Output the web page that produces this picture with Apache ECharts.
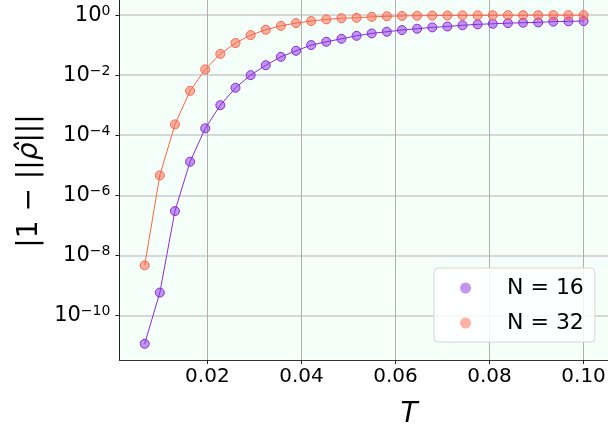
<!DOCTYPE html>
<html>
<head>
<meta charset="utf-8">
<script src="https://cdn.jsdelivr.net/npm/echarts@6/dist/echarts.min.js"></script>
<style>
html,body{margin:0;padding:0;background:#fff;}
#c{width:608px;height:432px;}
</style>
</head>
<body>
<div id="c"></div>
<script>
// ---- data ----
const T = [0.006667, 0.009885, 0.013103, 0.016322, 0.019540, 0.022759, 0.025977, 0.029195,
           0.032414, 0.035632, 0.038851, 0.042069, 0.045287, 0.048506, 0.051724, 0.054943,
           0.058161, 0.061379, 0.064598, 0.067816, 0.071034, 0.074253, 0.077471, 0.080690,
           0.083908, 0.087126, 0.090345, 0.093563, 0.096782, 0.100000];
const n16 = [1.15e-11, 5.8e-10, 3.0e-7, 1.32e-5, 1.7e-4, 1.0e-3, 3.8e-3, 1.0e-2,
             2.14e-2, 4.07e-2, 6.46e-2, 0.100, 0.129, 0.162, 0.204, 0.245,
             0.279, 0.316, 0.351, 0.389, 0.417, 0.457, 0.490, 0.513,
             0.537, 0.556, 0.569, 0.603, 0.617, 0.631];
const n32 = [4.7e-9, 4.6e-6, 2.3e-4, 3.0e-3, 1.55e-2, 5.1e-2, 0.117, 0.215,
             0.324, 0.437, 0.541, 0.631, 0.718, 0.785, 0.81, 0.87,
             0.91, 0.935, 0.95, 0.96, 0.97, 0.975, 0.98, 0.984,
             0.987, 0.99, 0.992, 0.993, 0.994, 0.995];
const seriesNames = ['N = 16', 'N = 32'];
const xTickValues = [0.02, 0.04, 0.06, 0.08, 0.10];
const xTickLabels = ['0.02', '0.04', '0.06', '0.08', '0.10'];
const yTickValues = [1e-10, 1e-8, 1e-6, 1e-4, 1e-2, 1];
const yTickExponents = ['\u221210', '\u22128', '\u22126', '\u22124', '\u22122', '0'];

// ---- chart ----
const chart = echarts.init(document.getElementById('c'), null, {renderer: 'canvas'});
const FONT = 'DejaVu Sans';
function pair(xs, ys){ return xs.map((x, i) => [x, ys[i]]); }

const option = {
  animation: false,
  backgroundColor: '#ffffff',
  textStyle: {fontFamily: FONT},
  grid: {
    left: 119.4, right: -90.6, top: -28, bottom: 72,
    containLabel: false, outerBoundsMode: 'none',
    show: true, backgroundColor: '#f5fffa', borderWidth: 0
  },
  xAxis: {
    type: 'value',
    min: 0.00129, max: 0.12446,
    name: 'T', nameLocation: 'middle', nameGap: 41,
    nameTextStyle: {fontFamily: FONT, fontStyle: 'italic', fontSize: 28, color: '#000'},
    axisLine: {show: true, lineStyle: {color: '#333', width: 1.2}},
    axisTick: {show: true, length: 4, lineStyle: {color: '#222', width: 1}, customValues: xTickValues},
    axisLabel: {
      customValues: xTickValues, fontSize: 20, color: '#000', margin: 7, fontFamily: FONT,
      formatter: function (v) {
        const i = xTickValues.findIndex(t => Math.abs(t - v) < 1e-9);
        return i >= 0 ? xTickLabels[i] : '';
      }
    },
    splitLine: {show: true, lineStyle: {color: '#b0b0b0', width: 1}}
  },
  yAxis: {
    type: 'log', logBase: 10,
    min: Math.pow(10, -11.48), max: Math.pow(10, 1.433),
    name: '{r||1 \u2212 ||}{i|\u03C1\u0302}{r||||}', nameLocation: 'middle', nameGap: 74, nameRotate: 90,
    nameTextStyle: {
      fontFamily: FONT, fontSize: 28, color: '#000', padding: [0, 30, 0, 0],
      rich: {
        r: {fontFamily: FONT, fontSize: 28, color: '#000'},
        i: {fontFamily: FONT, fontSize: 28, fontStyle: 'italic', color: '#000'}
      }
    },
    axisLine: {show: true, lineStyle: {color: '#222', width: 1}},
    axisTick: {show: true, length: 4, lineStyle: {color: '#222', width: 1}, customValues: yTickValues},
    axisLabel: {
      customValues: yTickValues, margin: 9, color: '#000',
      formatter: function (v) {
        const i = yTickValues.findIndex(t => Math.abs(Math.log10(t) - Math.log10(v)) < 1e-6);
        return i >= 0 ? '{b|10}{e|' + yTickExponents[i] + '}' : '';
      },
      rich: {
        b: {fontSize: 21, fontFamily: FONT, color: '#000', lineHeight: 22, verticalAlign: 'middle'},
        e: {fontSize: 14, fontFamily: FONT, color: '#000', lineHeight: 10, verticalAlign: 'top'}
      }
    },
    splitLine: {show: true, lineStyle: {color: '#cbcbcb', width: 1.5}}
  },
  legend: {
    left: 434, top: 268,
    orient: 'vertical',
    padding: [8, 11, 7, 26],
    itemGap: 11,
    itemWidth: 11, itemHeight: 11,
    icon: 'circle',
    backgroundColor: 'rgba(255,255,255,0.85)',
    borderColor: '#d6d6d6', borderWidth: 1, borderRadius: 4,
    textStyle: {fontFamily: FONT, fontSize: 22, color: '#000', lineHeight: 24, padding: [0, 0, 0, 31]},
    data: [
      {name: seriesNames[0], itemStyle: {color: '#c495f0', borderWidth: 0}},
      {name: seriesNames[1], itemStyle: {color: '#ffb1a3', borderWidth: 0}}
    ]
  },
  series: [
    {
      name: seriesNames[0], type: 'line', data: pair(T, n16),
      symbol: 'circle', symbolSize: 9,
      lineStyle: {color: '#8a2be2', width: 1},
      itemStyle: {color: 'rgba(138,43,226,0.5)', borderColor: '#8a2be2', borderWidth: 1}
    },
    {
      name: seriesNames[1], type: 'line', data: pair(T, n32),
      symbol: 'circle', symbolSize: 9,
      lineStyle: {color: '#ff6347', width: 1},
      itemStyle: {color: 'rgba(255,99,71,0.5)', borderColor: '#ff6347', borderWidth: 1}
    }
  ]
};
chart.setOption(option);
</script>
</body>
</html>
